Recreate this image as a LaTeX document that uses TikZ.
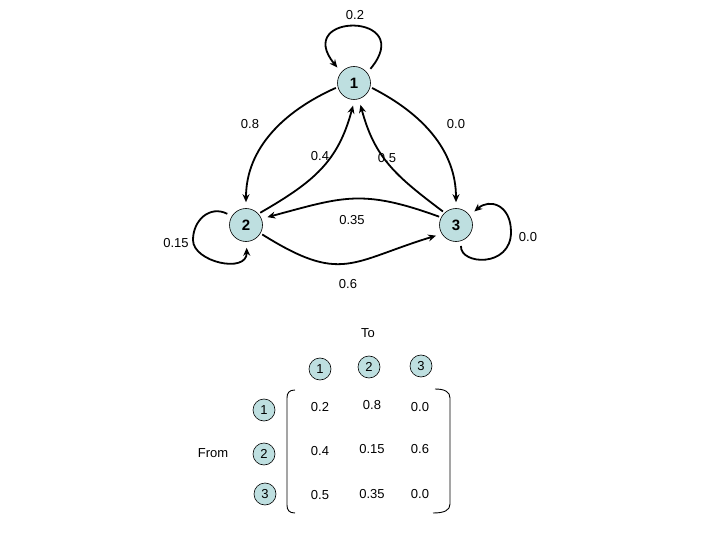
\documentclass[tikz,border=0pt]{standalone}
\usepackage{fontspec}
\setmainfont{Liberation Sans}
\usetikzlibrary{arrows.meta}
\definecolor{nodefill}{RGB}{190,223,224}
\tikzset{
  bignode/.style={circle, draw=black, line width=0.6pt, fill=nodefill, minimum size=33pt, inner sep=0pt, font=\fontsize{15}{17}\selectfont\bfseries},
  smallnode/.style={circle, draw=black, line width=0.6pt, fill=nodefill, minimum size=22pt, inner sep=0pt, font=\fontsize{13}{15}\selectfont},
  lbl/.style={font=\fontsize{13}{15}\selectfont, inner sep=0pt},
  edge/.style={line width=1.8pt, -{Stealth[length=8pt,width=7pt]}, shorten >=6pt, shorten <=2pt},
  bracket/.style={line width=0.9pt}
}
\begin{document}
\begin{tikzpicture}[x=1pt,y=1pt]
\useasboundingbox (0,0) rectangle (720,-540);
% main graph nodes
\node[bignode] (n1) at (354,-83) {1};
\node[bignode] (n2) at (246,-225) {2};
\node[bignode] (n3) at (456,-225) {3};
% edges
\draw[edge] (n1.194) to[out=204, in=90] (n2.90);
\draw[edge] (n1.-14) to[out=-27, in=90] (n3.90);
\draw[edge] (n2.42) to[out=30, in=-105, looseness=1.1] (n1.-88);
\draw[edge] (n3.133) to[out=143, in=-75, looseness=1.1] (n1.-73);
\draw[edge] (n3.153) to[out=160, in=15, looseness=1.2] (n2.22);
\draw[edge] (n2.-30) to[out=-32, in=197, looseness=1.35] (n3.212);
% self loops
\draw[edge, shorten <=5pt] (n1.38) .. controls (418,-12) and (292,-12) .. (n1.140);
\draw[edge, shorten <=5pt] (n2.148) .. controls (210,-205) and (193,-220) .. (193,-240)
   .. controls (193,-262) and (247,-274) .. (n2.-88);
\draw[edge, shorten <=5pt] (n3.-72) .. controls (460,-265) and (511,-268) .. (511,-232)
   .. controls (511,-205) and (490,-198) .. (n3.35);
% edge labels
\node[lbl] (l12) at (250,-124) {0.8};
\node[lbl] (l13) at (456,-124) {0.0};
\node[lbl] (l11) at (355,-15) {0.2};
\node[lbl] (l21) at (320,-156) {0.4};
\node[lbl] (l31) at (387,-158) {0.5};
\node[lbl] (l32) at (352,-220) {0.35};
\node[lbl] (l22) at (176,-243) {0.15};
\node[lbl] (l33) at (528,-237) {0.0};
\node[lbl] (l23) at (348,-284) {0.6};
% matrix
\node[lbl] (to) at (368,-333) {To};
\node[lbl] (from) at (213,-453) {From};
\node[smallnode] (c1) at (320,-369) {1};
\node[smallnode] (c2) at (369,-367) {2};
\node[smallnode] (c3) at (421,-366) {3};
\node[smallnode] (r1) at (264,-410) {1};
\node[smallnode] (r2) at (264,-454) {2};
\node[smallnode] (r3) at (265,-494) {3};
\node[lbl] (m11) at (320,-407) {0.2};
\node[lbl] (m12) at (372,-405) {0.8};
\node[lbl] (m13) at (420,-407) {0.0};
\node[lbl] (m21) at (320,-451) {0.4};
\node[lbl] (m22) at (372,-449) {0.15};
\node[lbl] (m23) at (420,-449) {0.6};
\node[lbl] (m31) at (320,-495) {0.5};
\node[lbl] (m32) at (372,-494) {0.35};
\node[lbl] (m33) at (420,-494) {0.0};
% brackets
\draw[bracket] (295,-390) .. controls (289,-390) and (287,-393) .. (287,-398) -- (287,-505)
   .. controls (287,-510) and (289,-513) .. (295,-513);
\draw[bracket] (435,-389) .. controls (445,-389) and (450,-392) .. (450,-398) -- (450,-504)
   .. controls (450,-510) and (445,-513) .. (433,-513);
\end{tikzpicture}
\end{document}
